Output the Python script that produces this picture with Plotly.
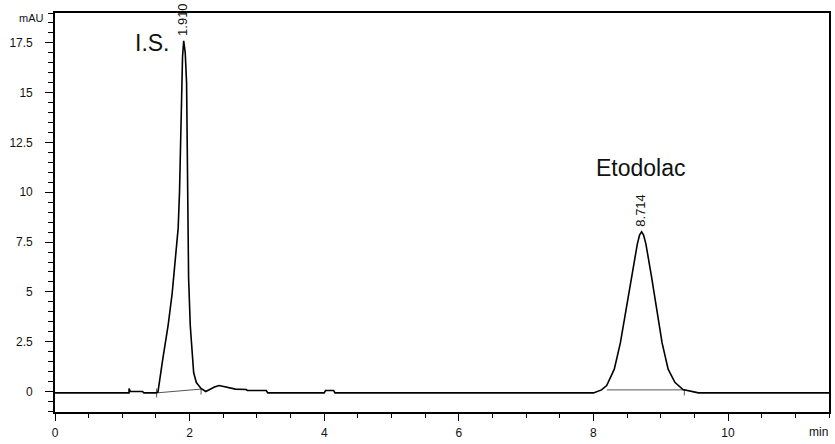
import plotly.graph_objects as go

# Chromatogram trace (time in min, absorbance in mAU)
time_min = [0.00, 1.10, 1.10, 1.12, 1.30, 1.32, 1.50, 1.53, 1.60, 1.68, 1.74, 1.79,
            1.83, 1.85, 1.875, 1.895, 1.912, 1.935, 1.955, 1.962, 1.97, 1.985, 2.01,
            2.04, 2.06, 2.10, 2.17, 2.24, 2.30, 2.37, 2.44, 2.55, 2.68, 2.84, 2.86,
            3.14, 3.16, 4.00, 4.02, 4.14, 4.16, 8.00, 8.05, 8.12, 8.197, 8.31, 8.40,
            8.484, 8.558, 8.652, 8.685, 8.716, 8.745, 8.78, 8.864, 8.943, 9.02, 9.11,
            9.21, 9.33, 9.45, 9.56, 11.50]
signal_mau = [-0.07, -0.07, 0.15, 0.00, 0.00, -0.07, -0.07, -0.02, 1.60, 3.30, 4.90, 6.55,
              8.20, 10.00, 13.70, 16.80, 17.60, 17.00, 15.50, 12.00, 9.00, 5.70, 3.30,
              1.60, 0.95, 0.45, 0.15, 0.00, 0.12, 0.22, 0.30, 0.20, 0.12, 0.10, 0.05,
              0.05, -0.07, -0.07, 0.05, 0.05, -0.07, -0.07, 0.00, 0.08, 0.30, 1.12, 2.44,
              4.09, 5.74, 7.40, 7.85, 8.02, 7.85, 7.40, 5.74, 4.09, 2.44, 1.12,
              0.46, 0.10, 0.00, -0.07, -0.07]

# Integration baselines (gray) with start/end marks
base_t = [1.51, 2.17, None, 1.51, 1.51, None, 2.17, 2.17, None,
          8.20, 9.35, None, 9.35, 9.35]
base_v = [-0.07, 0.12, None, 0.15, -0.30, None, 0.12, -0.15, None,
          0.08, 0.08, None, 0.08, -0.20]

peak_names = ["I.S.", "Etodolac"]
peak_rt = [1.910, 8.714]
peak_rt_labels = ["1.910", "8.714"]
peak_heights = [17.6, 8.02]

x_tick_vals = [0, 2, 4, 6, 8, 10]
y_tick_vals = [0, 2.5, 5, 7.5, 10, 12.5, 15, 17.5]
y_tick_text = ["0", "2.5", "5", "7.5", "10", "12.5", "15", "17.5"]

fig = go.Figure()
fig.add_trace(go.Scatter(x=base_t, y=base_v, mode="lines",
                         line=dict(color="#555555", width=1), hoverinfo="skip",
                         connectgaps=False))
fig.add_trace(go.Scatter(x=time_min, y=signal_mau, mode="lines",
                         line=dict(color="#000000", width=1.6)))

font_main = "Liberation Sans, Arial, sans-serif"

# peak name labels
fig.add_annotation(x=1.444, y=17.5, text=peak_names[0], showarrow=False,
                   font=dict(family=font_main, size=23, color="#111"))
fig.add_annotation(x=peak_rt[1], y=11.2, text=peak_names[1], showarrow=False,
                   font=dict(family=font_main, size=23, color="#111"))
# retention time labels
for rt, lab, h in zip(peak_rt, peak_rt_labels, peak_heights):
    fig.add_annotation(x=rt, y=h, text=lab, showarrow=False, textangle=-90,
                       yanchor="bottom", yshift=3, xshift=-1,
                       font=dict(family=font_main, size=13, color="#111"))

# axis unit labels
fig.add_annotation(xref="paper", x=-0.030, xanchor="center", y=18.75, text="mAU",
                   showarrow=False, font=dict(family=font_main, size=11, color="#111"))
fig.add_annotation(x=11.35, xanchor="center", yref="paper", y=-0.028, yanchor="top",
                   text="min", showarrow=False,
                   font=dict(family=font_main, size=12, color="#111"))

fig.update_layout(
    width=835, height=444,
    margin=dict(l=55, r=4, t=13, b=25),
    paper_bgcolor="white", plot_bgcolor="white",
    showlegend=False,
    font=dict(family=font_main, size=12, color="#111"),
)
fig.update_xaxes(range=[0, 11.5], tickvals=x_tick_vals, ticks="outside", ticklen=7,
                 tickwidth=1.2, tickcolor="black", showline=True, linecolor="black",
                 ticklabelstandoff=2,
                 linewidth=1.6, mirror=True, showgrid=False, zeroline=False,
                 minor=dict(dtick=0.5, tick0=0, ticks="outside", ticklen=4,
                            tickcolor="black", tickwidth=1.2, showgrid=False))
fig.update_yaxes(range=[-1.03, 19.0], tickvals=y_tick_vals, ticktext=y_tick_text,
                 ticks="outside", ticklen=8, tickwidth=1.2, tickcolor="black",
                 ticklabelstandoff=10,
                 showline=True, linecolor="black", linewidth=1.6, mirror=True,
                 showgrid=False, zeroline=False,
                 minor=dict(dtick=0.5, tick0=0, ticks="outside", ticklen=5,
                            tickcolor="black", tickwidth=1.2, showgrid=False))

fig.write_html("out.html", config={"displayModeBar": False},
               post_script="document.body.style.margin='0';document.body.style.overflow='hidden';")
